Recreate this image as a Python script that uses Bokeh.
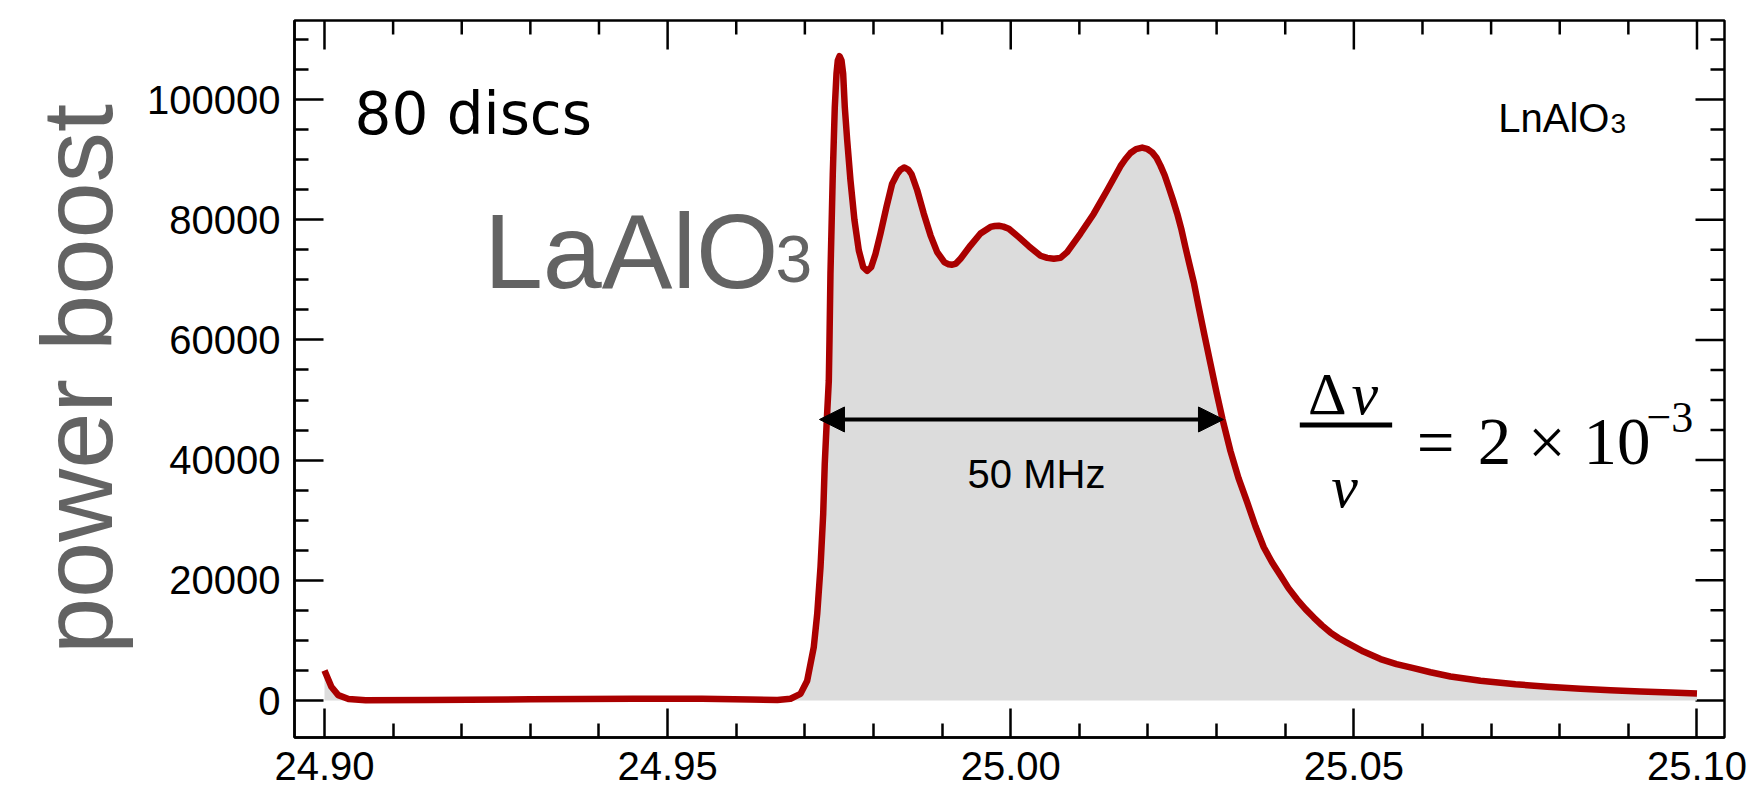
import math

from bokeh.plotting import figure
from bokeh.models import (Range1d, FixedTicker, PrintfTickFormatter,
                          Arrow, NormalHead, ColumnDataSource)
from bokeh.core.properties import value
from bokeh.embed import file_html
from bokeh.resources import INLINE

# Frequency (GHz) and power boost of the 80-disc LaAlO3 booster
freq_ghz = [
    24.9000, 24.9010, 24.9020, 24.9035, 24.9060, 24.9150, 24.9300, 24.9450,
    24.9550, 24.9620, 24.9660, 24.96791, 24.96936, 24.97034, 24.97130, 24.97180,
    24.97228, 24.97267, 24.97290, 24.97320, 24.97349, 24.97359, 24.97373, 24.97407,
    24.97436, 24.97461, 24.97480, 24.97505, 24.97534, 24.97558, 24.97582, 24.97617,
    24.97665, 24.97723, 24.97786, 24.97850, 24.97908, 24.97966, 24.98029, 24.98102,
    24.98189, 24.98272, 24.98345, 24.98393, 24.98452, 24.98510, 24.98554, 24.98637,
    24.98733, 24.98831, 24.98928, 24.99035, 24.99093, 24.99147, 24.99202, 24.99268,
    24.99413, 24.99559, 24.99705, 24.99767, 24.99826, 24.99892, 24.99972, 25.00117,
    25.00263, 25.00434, 25.00531, 25.00627, 25.00725, 25.00822, 25.01016, 25.01210,
    25.01405, 25.01599, 25.01672, 25.01745, 25.01826, 25.01916, 25.01986, 25.02061,
    25.02124, 25.02182, 25.02243, 25.02303, 25.02364, 25.02426, 25.02489, 25.02546,
    25.02604, 25.02667, 25.02740, 25.02823, 25.02911, 25.02998, 25.03086, 25.03202,
    25.03319, 25.03445, 25.03566, 25.03687, 25.03807, 25.03931, 25.04047, 25.04174,
    25.04295, 25.04416, 25.04535, 25.04659, 25.04776, 25.04903, 25.05140, 25.05388,
    25.05621, 25.05869, 25.06117, 25.06408, 25.06845, 25.07355, 25.07821, 25.08302,
    25.08739, 25.09177, 25.09614, 25.10000,
]
power_boost = [
    5000, 2300, 900, 250, 50, 100, 200, 300,
    280, 150, 100, 300, 1100, 3300, 8900, 14400,
    22200, 31000, 39400, 46700, 53200, 60000, 71000, 87600,
    98700, 104300, 106500, 107200, 106500, 104300, 98700, 93200,
    86500, 79900, 74900, 72100, 71500, 72100, 74300, 77700,
    82100, 86000, 87600, 88300, 88700, 88300, 87600, 84900,
    81000, 77400, 74600, 72900, 72600, 72500, 72700, 73500,
    75700, 77700, 78800, 78950, 79000, 78850, 78500, 77100,
    75600, 74000, 73650, 73500, 73650, 74600, 77700, 81000,
    84900, 88900, 90100, 91100, 91750, 92000, 91800, 91200,
    90300, 89000, 87400, 85400, 83300, 81000, 78300, 75400,
    72600, 69600, 65400, 60800, 56000, 51300, 46800, 41500,
    37000, 33000, 29000, 25500, 23000, 20800, 18700, 16800,
    15200, 13800, 12500, 11300, 10400, 9600, 8150, 6900,
    6050, 5400, 4700, 4000, 3300, 2700, 2300, 1950,
    1700, 1500, 1320, 1150,
]

# Plot ranges
x_lo, x_hi = 24.89563, 25.10401
y_lo, y_hi = -6156, 113145

# Axis ticks
x_major = [24.90, 24.95, 25.00, 25.05, 25.10]
x_minor = [24.91, 24.92, 24.93, 24.94, 24.96, 24.97, 24.98, 24.99,
           25.01, 25.02, 25.03, 25.04, 25.06, 25.07, 25.08, 25.09]
y_major = [0, 20000, 40000, 60000, 80000, 100000]
y_minor = [5000, 10000, 15000, 25000, 30000, 35000, 45000, 50000, 55000,
           65000, 70000, 75000, 85000, 90000, 95000, 105000, 110000]

# Bandwidth marker (GHz) and its height
band_lo, band_hi, band_level = 24.97213, 25.03100, 46760

SANS = "Liberation Sans"
SERIF = "Liberation Serif"
GRAY = "#636363"
MAJOR_LEN, MINOR_LEN, AX_W = 29, 14, 2.5

p = figure(width=1753, height=792, output_backend="svg", toolbar_location=None,
           x_range=Range1d(x_lo, x_hi), y_range=Range1d(y_lo, y_hi),
           min_border_left=294, min_border_right=29, min_border_top=20,
           min_border_bottom=55, background_fill_color="white",
           border_fill_color="white")
p.grid.visible = False
p.outline_line_color = "black"
p.outline_line_width = AX_W


def style_axis(ax, ticker):
    ax.ticker = ticker
    ax.axis_line_color = "black"
    ax.axis_line_width = AX_W
    ax.major_tick_line_color = "black"
    ax.minor_tick_line_color = "black"
    ax.major_tick_line_width = AX_W
    ax.minor_tick_line_width = AX_W
    ax.major_tick_in = MAJOR_LEN
    ax.major_tick_out = 0
    ax.minor_tick_in = MINOR_LEN
    ax.minor_tick_out = 0
    ax.major_label_text_font = SANS
    ax.major_label_text_font_size = "40px"
    ax.major_label_text_color = "black"


xa = p.xaxis[0]
style_axis(xa, FixedTicker(ticks=x_major, minor_ticks=x_minor))
xa.formatter = PrintfTickFormatter(format="%.2f")
xa.major_label_standoff = 14

ya = p.yaxis[0]
style_axis(ya, FixedTicker(ticks=y_major, minor_ticks=y_minor))
ya.formatter = PrintfTickFormatter(format="%d")
ya.major_label_standoff = 14
ya.axis_label = "power boost"
ya.axis_label_text_font = SANS
ya.axis_label_text_font_size = "101px"
ya.axis_label_text_font_style = "normal"
ya.axis_label_text_color = GRAY
ya.axis_label_standoff = 11

# Mirrored inward ticks on the top and right edges of the frame
for ticks, length in ((x_major, MAJOR_LEN), (x_minor, MINOR_LEN)):
    p.ray(x=ticks, y=[y_hi] * len(ticks), length=length, length_units="screen",
          angle=-math.pi / 2, line_color="black", line_width=AX_W)
for ticks, length in ((y_major, MAJOR_LEN), (y_minor, MINOR_LEN)):
    p.ray(x=[x_hi] * len(ticks), y=ticks, length=length, length_units="screen",
          angle=math.pi, line_color="black", line_width=AX_W)

src = ColumnDataSource(dict(x=freq_ghz, y=power_boost))
p.varea(x="x", y1=0, y2="y", source=src, fill_color="#dcdcdc")
p.line(x="x", y="y", source=src, line_color="#aa0000", line_width=6.5,
       line_join="round")

# Bandwidth arrow and its label
p.add_layout(Arrow(start=NormalHead(size=25, fill_color="black", line_color="black"),
                   end=NormalHead(size=25, fill_color="black", line_color="black"),
                   x_start=band_lo, y_start=band_level, x_end=band_hi, y_end=band_level,
                   line_color="black", line_width=4))
p.text(x=[25.00375], y=[37770], text=["50 MHz"], text_font=value(SANS),
       text_font_size="40px", text_align="center", text_baseline="alphabetic",
       text_color="black")

# Labels
p.text(x=[24.90437], y=[97670], text=["80 discs"], text_font=value("DejaVu Sans"),
       text_font_size="58px", text_align="left", text_baseline="alphabetic",
       text_color="black")
p.text(x=[24.96616], y=[74875], text=["LaAlO"], text_font=value(SANS),
       text_font_size="106px", text_align="right", text_baseline="alphabetic",
       text_color=GRAY)
p.text(x=[24.96572], y=[73500], text=["3"], text_font=value(SANS),
       text_font_size="66px", text_align="left", text_baseline="alphabetic",
       text_color=GRAY)
p.text(x=[25.08725], y=[97005], text=["LnAlO"], text_font=value(SANS),
       text_font_size="40px", text_align="right", text_baseline="alphabetic",
       text_color="black")
p.text(x=[25.08739], y=[96000], text=["3"], text_font=value(SANS),
       text_font_size="28px", text_align="left", text_baseline="alphabetic",
       text_color="black")

# Relative bandwidth formula
p.text(x=[25.04330], y=[51032], text=["Δ"], text_font=value(SERIF),
       text_font_size="60px", text_align="left", text_baseline="alphabetic",
       text_color="black")
p.text(x=[25.04965], y=[51032], text=["ν"], text_font=value(SERIF),
       text_font_size="60px", text_font_style="italic", text_align="left",
       text_baseline="alphabetic", text_color="black")
p.segment(x0=[25.04212], y0=[45840], x1=[25.05558], y1=[45840],
          line_color="black", line_width=5)
p.text(x=[25.04863], y=[35491], text=["ν"], text_font=value(SERIF),
       text_font_size="60px", text_font_style="italic", text_align="center",
       text_baseline="alphabetic", text_color="black")
p.text(x=[25.06190, 25.07049, 25.07814], y=[42978, 42978, 42978],
       text=["=", "2", "×"], text_font=value(SERIF), text_font_size="67px",
       text_align="center", text_baseline="alphabetic", text_color="black")
p.text(x=[25.08346], y=[42978], text=["10"], text_font=value(SERIF),
       text_font_size="67px", text_align="left", text_baseline="alphabetic",
       text_color="black")
p.text(x=[25.09264], y=[47138], text=["−3"], text_font=value(SERIF),
       text_font_size="44px", text_align="left", text_baseline="alphabetic",
       text_color="black")

open("out.html", "w").write(file_html(p, INLINE))
